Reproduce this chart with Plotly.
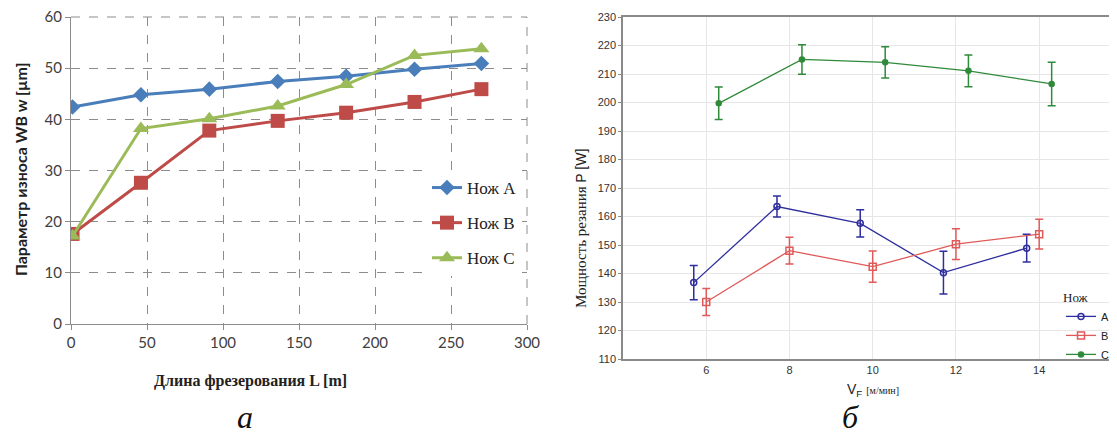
import plotly.graph_objects as go

# ---------- left chart (a) data ----------
L_len = [1, 46, 91, 136, 181, 226, 270]
wear_A = [42.4, 44.8, 45.9, 47.4, 48.4, 49.8, 50.9]
wear_B = [17.6, 27.6, 37.8, 39.7, 41.3, 43.4, 45.9]
wear_C = [17.2, 38.2, 40.1, 42.6, 46.8, 52.5, 53.8]
left_names = ["Нож A", "Нож B", "Нож C"]
left_xticks = [0, 50, 100, 150, 200, 250, 300]
left_yticks = [0, 10, 20, 30, 40, 50, 60]

# ---------- right chart (б) data ----------
vf_A = [5.7, 7.7, 9.7, 11.7, 13.7]
P_A = [136.8, 163.5, 157.6, 140.3, 148.9]
err_A = [6.0, 3.7, 4.8, 7.5, 4.9]
vf_B = [6, 8, 10, 12, 14]
P_B = [130.0, 148.0, 142.4, 150.3, 153.8]
err_B = [4.7, 4.7, 5.5, 5.4, 5.2]
vf_C = [6.3, 8.3, 10.3, 12.3, 14.3]
P_C = [199.7, 215.1, 214.1, 211.1, 206.5]
err_C = [5.7, 5.2, 5.5, 5.6, 7.6]
right_names = ["A", "B", "C"]
right_xticks = [6, 8, 10, 12, 14]
right_yticks = list(range(110, 231, 10))

# page body has an 8px margin: the figure is sized to the visible part of the window
OFF = 8
W, H = 1117 - OFF, 442 - OFF
def px(x):
    return (x - OFF) / W
def py(y):
    return 1 - (y - OFF) / H

fig = go.Figure()

# left chart traces
left_colors = ["#4a7ebb", "#be4b48", "#9bbb59"]
left_symbols = ["diamond", "square", "triangle-up"]
left_sizes = [12, 14, 14]
for i, ys in enumerate([wear_A, wear_B, wear_C]):
    fig.add_trace(go.Scatter(
        x=L_len, y=ys, mode="lines+markers", name=left_names[i],
        line=dict(color=left_colors[i], width=3),
        marker=dict(symbol=left_symbols[i], size=left_sizes[i], color=left_colors[i]),
        xaxis="x", yaxis="y", legend="legend", legendgroup="l%d" % i,
    ))

# right chart traces
right_colors = ["#2e2e9e", "#e05a5a", "#2f8a3a"]
right_symbols = ["circle-open", "square-open", "circle"]
right_sizes = [6, 7, 5]
for i, (xs, ys, es) in enumerate([(vf_A, P_A, err_A), (vf_B, P_B, err_B), (vf_C, P_C, err_C)]):
    fig.add_trace(go.Scatter(
        x=xs, y=ys, mode="lines+markers", name=right_names[i],
        line=dict(color=right_colors[i], width=1.3),
        marker=dict(symbol=right_symbols[i], size=right_sizes[i], color=right_colors[i],
                    line=dict(color=right_colors[i], width=1.5)),
        error_y=dict(type="data", array=es, visible=True, color=right_colors[i],
                     thickness=1.5, width=4),
        xaxis="x2", yaxis="y2", legend="legend2",
    ))

sans_left = "Lato, 'Open Sans', sans-serif"
serif = "'Liberation Serif', 'Times New Roman', serif"
sans_right = "'Liberation Sans', Arial, sans-serif"

fig.update_layout(
    width=W, height=H,
    margin=dict(l=0, r=0, t=0, b=0, autoexpand=False),
    paper_bgcolor="white", plot_bgcolor="white",
    xaxis=dict(
        domain=[px(71), px(527)], range=[0, 300], tickvals=left_xticks,
        showgrid=True, gridcolor="#8c8c8c", griddash="dash", gridwidth=1,
        showline=True, linecolor="#8c8c8c", linewidth=1,
        ticks="outside", ticklen=5, tickcolor="#8c8c8c",
        tickfont=dict(family=sans_left, size=15, color="#404040"),
        zeroline=False, anchor="y", automargin=False, ticklabeloverflow="allow",
    ),
    yaxis=dict(
        domain=[py(324), py(17)], range=[0, 60], tickvals=left_yticks,
        showgrid=True, gridcolor="#8c8c8c", griddash="dash", gridwidth=1,
        showline=True, linecolor="#8c8c8c", linewidth=1,
        ticks="outside", ticklen=5, tickcolor="#8c8c8c",
        tickfont=dict(family=sans_left, size=15, color="#404040"),
        zeroline=False, anchor="x", automargin=False, ticklabeloverflow="allow",
    ),
    xaxis2=dict(
        domain=[px(623), 1.0], range=[4, 15.87], tickvals=right_xticks,
        showgrid=True, gridcolor="#e6e6e6", gridwidth=1,
        showline=True, linecolor="#8a8a8a", linewidth=1.5, mirror=True,
        ticks="", tickfont=dict(family=sans_right, size=11, color="#333333"),
        zeroline=False, anchor="y2", automargin=False, ticklabeloverflow="allow",
    ),
    yaxis2=dict(
        domain=[py(359), py(17)], range=[110, 230], tickvals=right_yticks,
        showgrid=True, gridcolor="#e6e6e6", gridwidth=1,
        showline=True, linecolor="#8a8a8a", linewidth=1.5,
        ticks="outside", ticklen=3, tickcolor="#8a8a8a",
        tickfont=dict(family=sans_right, size=11, color="#333333"),
        zeroline=False, anchor="x2", automargin=False, ticklabeloverflow="allow",
    ),
    legend=dict(
        x=px(427), y=py(170), xanchor="left", yanchor="top",
        bgcolor="white", font=dict(family=serif, size=17, color="#222222"),
        traceorder="grouped", tracegroupgap=10, itemwidth=30,
    ),
    legend2=dict(
        x=px(1061), y=py(285), xanchor="left", yanchor="top",
        bgcolor="rgba(255,255,255,0)",
        font=dict(family=sans_right, size=11, color="#222222"),
        title=dict(text="Нож", font=dict(family=serif, size=13, color="#222222")),
        itemwidth=30,
    ),
    showlegend=True,
    # dashed top and right frame of the left chart (Excel-style plot-area border)
    shapes=[
        dict(type="line", xref="x domain", yref="y domain", x0=0, x1=1, y0=1, y1=1,
             line=dict(color="#8c8c8c", width=1, dash="dash"), layer="below"),
        dict(type="line", xref="x domain", yref="y domain", x0=1, x1=1, y0=0, y1=1,
             line=dict(color="#8c8c8c", width=1, dash="dash"), layer="below"),
    ],
)

annotations = [
    dict(text="<b>Параметр износа WB w [µm]</b>", x=px(20), y=py(169), textangle=-90,
         font=dict(family=sans_left, size=16, color="#222222")),
    dict(text="<b>Длина фрезерования L [m]</b>", x=px(250), y=py(381),
         font=dict(family=serif, size=16, color="#222222")),
    dict(text="Мощность резания <span style='font-family:Liberation Sans;font-size:14px'>P [W]</span>",
         x=px(581), y=py(229), textangle=-90,
         font=dict(family=serif, size=15, color="#222222")),
    dict(text="V<sub>F</sub> <span style='font-family:Liberation Serif;font-size:10px'>[м/мин]</span>",
         x=px(873), y=py(390),
         font=dict(family=sans_right, size=14, color="#222222")),
    dict(text="<i>а</i>", x=px(245), y=py(417),
         font=dict(family=serif, size=32, color="#111111")),
    dict(text="<i>б</i>", x=px(850), y=py(417),
         font=dict(family=serif, size=32, color="#111111")),
]
for a in annotations:
    a.update(xref="paper", yref="paper", showarrow=False, xanchor="center", yanchor="middle")
fig.update_layout(annotations=annotations)

fig.write_html("out.html")
